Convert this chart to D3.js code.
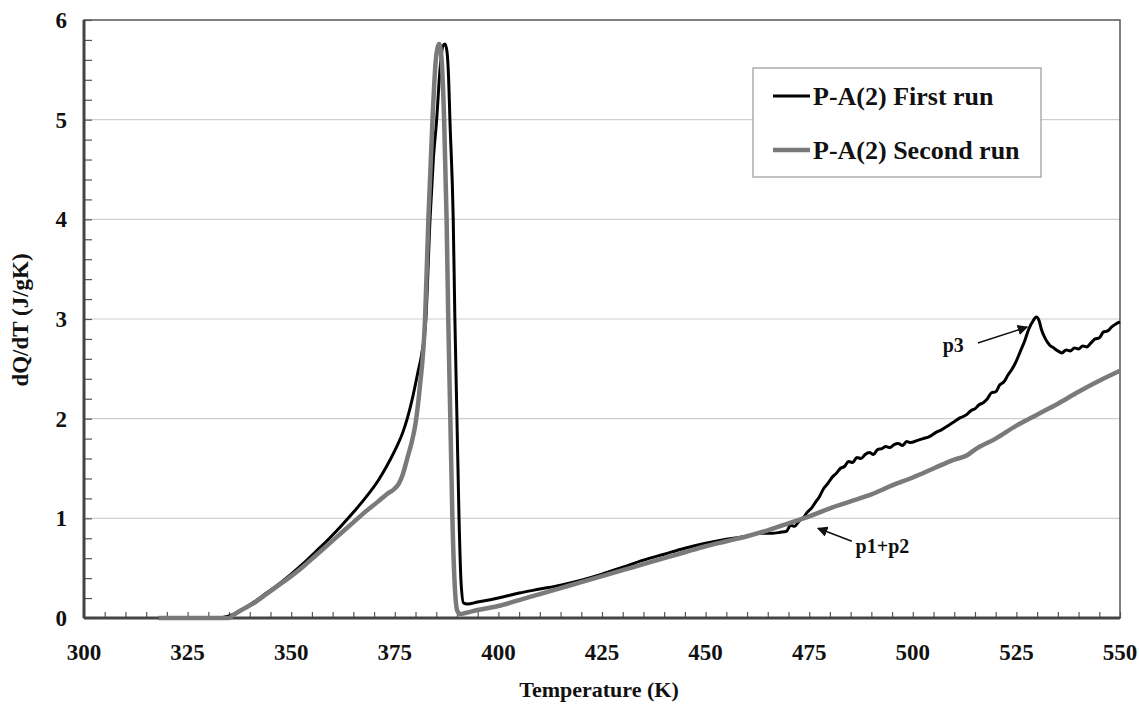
<!DOCTYPE html>
<html>
<head>
<meta charset="utf-8">
<script src="https://cdn.jsdelivr.net/npm/d3@7"></script>
<style>
    body { margin: 0; background: #fff; }
    text { font-family: "Liberation Serif", "Times New Roman", serif; font-weight: bold; fill: #111; }
</style>
</head>
<body>
<div id="chart"></div>
<script>
// data - first run (black)
const tempFirst = [318, 325, 332, 335, 338, 341, 344, 347, 350, 353, 356, 359, 362, 365, 368, 371, 373, 375, 377, 378, 379.5, 380.5, 381.5, 382.5, 383.5, 384.3, 385.1, 385.9, 386.6, 387.1, 387.6, 388.0, 388.3, 389.1, 389.5, 390.0, 390.5, 391.0, 391.6, 392.5, 395, 400, 405, 410, 415, 420, 425, 430, 435, 440, 445, 450, 455, 460, 463, 466, 468, 469.5, 470.5, 471.5, 472.5, 473.5, 474.5, 475.5, 476.5, 477.5, 478.5, 479.5, 480.5, 481.5, 482.5, 483.5, 484.5, 485.5, 486.5, 487.5, 488.5, 489.5, 490.5, 491.5, 492.5, 493.5, 494.5, 495.5, 496.5, 497.5, 498.5, 499.5, 501, 502.5, 504, 505.5, 507, 508.5, 510, 511.5, 513, 514, 515, 516, 517, 518, 519, 520, 521, 522, 523, 524, 525, 526, 527, 528, 529, 529.8, 530.5, 531, 532, 533, 534, 535, 536, 537, 538, 539, 540, 541, 542, 543, 544, 545, 546, 547, 548, 549, 550];
const dqFirst = [0, 0, 0, 0.02, 0.08, 0.16, 0.25, 0.34, 0.44, 0.55, 0.67, 0.79, 0.92, 1.06, 1.21, 1.38, 1.52, 1.68, 1.87, 2.0, 2.25, 2.45, 2.65, 3.0, 4.0, 4.6, 5.0, 5.5, 5.74, 5.76, 5.68, 5.4, 5.0, 4.0, 3.0, 2.0, 1.0, 0.35, 0.15, 0.14, 0.16, 0.2, 0.25, 0.29, 0.33, 0.38, 0.44, 0.51, 0.58, 0.64, 0.7, 0.75, 0.79, 0.82, 0.85, 0.85, 0.86, 0.87, 0.93, 0.92, 0.97, 1.0, 1.06, 1.1, 1.16, 1.22, 1.3, 1.35, 1.41, 1.45, 1.5, 1.52, 1.57, 1.56, 1.61, 1.6, 1.64, 1.66, 1.64, 1.69, 1.7, 1.72, 1.71, 1.74, 1.75, 1.73, 1.77, 1.76, 1.78, 1.8, 1.82, 1.86, 1.89, 1.93, 1.97, 2.01, 2.04, 2.08, 2.1, 2.14, 2.16, 2.2, 2.26, 2.27, 2.34, 2.37, 2.44, 2.5, 2.58, 2.68, 2.78, 2.9, 2.98, 3.02, 2.98, 2.9, 2.8, 2.74, 2.71, 2.68, 2.66, 2.69, 2.68, 2.71, 2.7, 2.73, 2.72, 2.76, 2.8, 2.81, 2.87, 2.88, 2.92, 2.95, 2.97];

// second run (grey)
const tempSecond = [318, 325, 333, 335, 336, 338, 341, 344, 347, 350, 353, 356, 359, 362, 365, 368, 371, 373, 375, 376, 377, 378, 379, 380, 381, 382.3, 383.1, 384.1, 384.9, 385.7, 386.3, 386.9, 387.5, 387.9, 388.4, 388.9, 389.5, 390.1, 390.8, 392, 395, 400, 405, 410, 415, 420, 425, 430, 435, 440, 445, 450, 455, 460, 465, 470, 475, 480, 485, 490, 495, 500, 505, 510, 513, 515, 520, 525, 530, 535, 540, 545, 550];
const dqSecond = [0, 0, 0, 0, 0.03, 0.08, 0.15, 0.24, 0.33, 0.42, 0.52, 0.63, 0.74, 0.85, 0.96, 1.07, 1.17, 1.24, 1.3, 1.35, 1.45, 1.6, 1.75, 1.95, 2.3, 3.0, 4.0, 5.0, 5.6, 5.76, 5.6, 5.0, 4.0, 3.0, 2.0, 1.0, 0.3, 0.07, 0.04, 0.05, 0.08, 0.12, 0.18, 0.24, 0.3, 0.36, 0.42, 0.48, 0.54, 0.6, 0.66, 0.72, 0.77, 0.82, 0.88, 0.95, 1.02, 1.1, 1.17, 1.24, 1.33, 1.41, 1.5, 1.59, 1.63, 1.69, 1.8, 1.93, 2.04, 2.15, 2.27, 2.38, 2.48];

const xTicks = [300, 325, 350, 375, 400, 425, 450, 475, 500, 525, 550];
const yTicks = [0, 1, 2, 3, 4, 5, 6];
const seriesNames = ["P-A(2) First run", "P-A(2) Second run"];

// rozmery
const width = 1139;
const height = 711;
const mLeft = 84, mRight = 1120, mTop = 20, mBottom = 618;

const svg = d3.select("#chart").append("svg")
    .attr("width", width)
    .attr("height", height);

const x = d3.scaleLinear().domain([300, 550]).range([mLeft, mRight]);
const y = d3.scaleLinear().domain([0, 6]).range([mBottom, mTop]);

// grid lines
svg.append("g").selectAll("line")
    .data(yTicks.filter(d => d > 0 && d < 6))
    .enter().append("line")
    .attr("x1", mLeft).attr("x2", mRight)
    .attr("y1", d => y(d)).attr("y2", d => y(d))
    .attr("stroke", "#cfcfcf")
    .attr("stroke-width", 1.2);

// frame (top + right)
svg.append("rect")
    .attr("x", mLeft).attr("y", mTop)
    .attr("width", mRight - mLeft).attr("height", mBottom - mTop)
    .attr("fill", "none")
    .attr("stroke", "#555")
    .attr("stroke-width", 1.5);

// minor ticks pointing inside
const xAxis = d3.axisTop(x).tickValues(d3.range(300, 551, 5)).tickSize(6).tickFormat("");
const gx = svg.append("g").attr("transform", `translate(0,${mBottom})`).call(xAxis);
gx.select(".domain").remove();
gx.selectAll("line").attr("stroke", "#555").attr("stroke-width", 1.2);

const yAxis = d3.axisRight(y).tickValues(d3.range(0, 6.01, 0.2)).tickSize(8).tickFormat("");
const gy = svg.append("g").attr("transform", `translate(${mLeft},0)`).call(yAxis);
gy.select(".domain").remove();
gy.selectAll("line").attr("stroke", "#555").attr("stroke-width", 1.2);

// main axis lines
svg.append("line").attr("x1", mLeft).attr("x2", mLeft).attr("y1", mTop).attr("y2", mBottom)
    .attr("stroke", "#444").attr("stroke-width", 3);
svg.append("line").attr("x1", mLeft).attr("x2", mRight).attr("y1", mBottom).attr("y2", mBottom)
    .attr("stroke", "#444").attr("stroke-width", 3);

// tick labels
svg.append("g").selectAll("text")
    .data(xTicks)
    .enter().append("text")
    .attr("x", d => x(d))
    .attr("y", 660)
    .attr("text-anchor", "middle")
    .style("font-size", "23px")
    .text(d => d);

svg.append("g").selectAll("text")
    .data(yTicks)
    .enter().append("text")
    .attr("x", 67)
    .attr("y", d => y(d))
    .attr("dy", "0.35em")
    .attr("text-anchor", "end")
    .style("font-size", "23px")
    .text(d => d);

// axis titles
svg.append("text")
    .attr("x", 599).attr("y", 697)
    .attr("text-anchor", "middle")
    .style("font-size", "22px")
    .text("Temperature (K)");

svg.append("text")
    .attr("transform", "translate(28,320) rotate(-90)")
    .attr("text-anchor", "middle")
    .style("font-size", "23px")
    .text("dQ/dT (J/gK)");

// curves
const line = d3.line()
    .x(d => x(d[0]))
    .y(d => y(d[1]))
    .curve(d3.curveMonotoneX);

const first = tempFirst.map((t, i) => [t, dqFirst[i]]);
const second = tempSecond.map((t, i) => [t, dqSecond[i]]);

const plot = svg.append("g");
plot.append("path").datum(first)
    .attr("d", line)
    .attr("fill", "none")
    .attr("stroke", "#000")
    .attr("stroke-width", 3)
    .attr("stroke-linejoin", "round");

plot.append("path").datum(second)
    .attr("d", line)
    .attr("fill", "none")
    .attr("stroke", "#7a7a7a")
    .attr("stroke-width", 4.5)
    .attr("stroke-linejoin", "round");

// legenda
const lg = svg.append("g");
lg.append("rect")
    .attr("x", 753).attr("y", 68)
    .attr("width", 288).attr("height", 109)
    .attr("fill", "#fff")
    .attr("stroke", "#999")
    .attr("stroke-width", 1.2);

const legendColors = ["#000", "#7a7a7a"];
const legendWidths = [3, 4.5];
seriesNames.forEach((name, i) => {
    const ly = 96 + i * 54;
    lg.append("line")
        .attr("x1", 773).attr("x2", 810)
        .attr("y1", ly).attr("y2", ly)
        .attr("stroke", legendColors[i])
        .attr("stroke-width", legendWidths[i]);
    lg.append("text")
        .attr("x", 813).attr("y", ly)
        .attr("dy", "0.35em")
        .style("font-size", "26px")
        .text(name);
});

// annotations with arrows
svg.append("defs").append("marker")
    .attr("id", "arrow")
    .attr("viewBox", "0 0 10 10")
    .attr("refX", 9).attr("refY", 5)
    .attr("markerWidth", 7).attr("markerHeight", 7)
    .attr("orient", "auto")
    .append("path")
    .attr("d", "M0,0 L10,5 L0,10 z")
    .attr("fill", "#111");

svg.append("line")
    .attr("x1", x(515.7)).attr("y1", y(2.76))
    .attr("x2", x(527.6)).attr("y2", y(2.92))
    .attr("stroke", "#111").attr("stroke-width", 1.5)
    .attr("marker-end", "url(#arrow)");
svg.append("text")
    .attr("x", x(515.7) - 14).attr("y", y(2.67))
    .attr("text-anchor", "end")
    .style("font-size", "20px")
    .text("p3");

svg.append("line")
    .attr("x1", x(485.3)).attr("y1", y(0.77))
    .attr("x2", x(477.1)).attr("y2", y(0.9))
    .attr("stroke", "#111").attr("stroke-width", 1.5)
    .attr("marker-end", "url(#arrow)");
svg.append("text")
    .attr("x", x(486.2)).attr("y", y(0.65))
    .style("font-size", "20px")
    .text("p1+p2");
</script>
</body>
</html>
